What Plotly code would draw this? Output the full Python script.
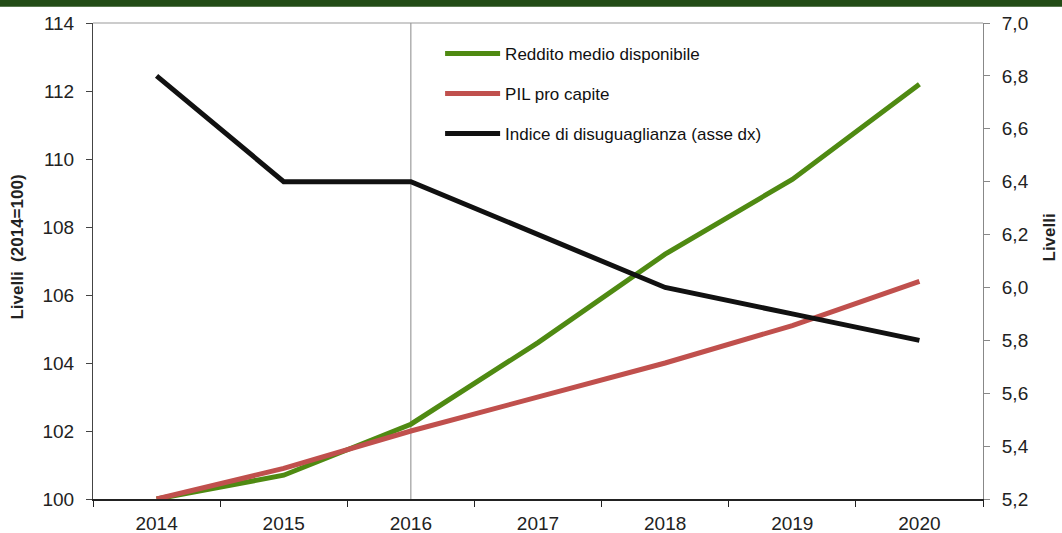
import plotly.graph_objects as go

years = ["2014", "2015", "2016", "2017", "2018", "2019", "2020"]
reddito = [100.0, 100.7, 102.2, 104.6, 107.2, 109.4, 112.2]
pil = [100.0, 100.9, 102.0, 103.0, 104.0, 105.1, 106.4]
disuguaglianza = [6.8, 6.4, 6.4, 6.2, 6.0, 5.9, 5.8]

left_ticks = [100, 102, 104, 106, 108, 110, 112, 114]
right_ticks = [5.2, 5.4, 5.6, 5.8, 6.0, 6.2, 6.4, 6.6, 6.8, 7.0]
right_labels = [f"{v:.1f}".replace(".", ",") for v in right_ticks]

FONT = "Liberation Sans, Arial, sans-serif"

fig = go.Figure()
fig.add_trace(go.Scatter(x=years, y=reddito, mode="lines", name="Reddito medio disponibile",
                         line=dict(color="#4f8a12", width=5), legendgroup="a"))
fig.add_trace(go.Scatter(x=years, y=pil, mode="lines", name="PIL pro capite",
                         line=dict(color="#c0504d", width=5), legendgroup="b"))
fig.add_trace(go.Scatter(x=years, y=disuguaglianza, mode="lines",
                         name="Indice di disuguaglianza (asse dx)",
                         line=dict(color="#111111", width=5), yaxis="y2", legendgroup="c"))

fig.update_layout(
    width=1062, height=533,
    margin=dict(l=93, r=79, t=23, b=34, autoexpand=False),
    paper_bgcolor="white", plot_bgcolor="white",
    font=dict(family=FONT, size=19, color="#222"),
    showlegend=True,
    legend=dict(x=0.39, y=0.973, xanchor="left", yanchor="top",
                bgcolor="rgba(0,0,0,0)", font=dict(size=17, color="#111"),
                tracegroupgap=15, itemwidth=55),
    xaxis=dict(type="category", categoryorder="array", categoryarray=years,
               range=[-0.5, 6.5], tickson="boundaries", ticks="outside", ticklen=6,
               tickangle=0, tickcolor="#222", showline=True, linecolor="#222", linewidth=1.5,
               showgrid=False, tickfont=dict(size=19), automargin=False,
               ticklabelstandoff=6),
    yaxis=dict(range=[100, 114], tickvals=left_ticks, ticks="outside", ticklen=6,
               tickcolor="#444", showline=True, linecolor="#444", linewidth=1,
               showgrid=False, zeroline=False, tickfont=dict(size=19), automargin=False,
               ticklabelstandoff=8),
    yaxis2=dict(range=[5.2, 7.0], tickvals=right_ticks, ticktext=right_labels,
                overlaying="y", side="right", ticks="outside", ticklen=6,
                tickcolor="#888", showline=True, linecolor="#888", linewidth=1,
                showgrid=False, zeroline=False, tickfont=dict(size=19), automargin=False,
                ticklabelstandoff=8),
    annotations=[
        dict(text="<b>Livelli  (2014=100)</b>", xref="paper", yref="paper",
             x=-0.0845, y=0.53, xanchor="center", yanchor="middle", textangle=-90,
             showarrow=False, font=dict(size=17, color="#222")),
        dict(text="<b>Livelli</b>", xref="paper", yref="paper",
             x=1.0745, y=0.55, xanchor="center", yanchor="middle", textangle=-90,
             showarrow=False, font=dict(size=17, color="#222")),
    ],
)

# top frame line and dark green header band
fig.add_shape(type="line", xref="paper", yref="paper", x0=0, x1=1, y0=1, y1=1,
              line=dict(color="#999", width=1))
fig.add_shape(type="rect", xref="paper", yref="paper", x0=-0.2, x1=1.2, y0=1.034, y1=1.08,
              fillcolor="#234c16", line=dict(width=0), layer="above")
# vertical marker at the 2016 category
fig.add_shape(type="line", xref="x", yref="paper", x0=2, x1=2, y0=0, y1=1,
              line=dict(color="#888", width=1), layer="below")

fig.write_html("out.html")
